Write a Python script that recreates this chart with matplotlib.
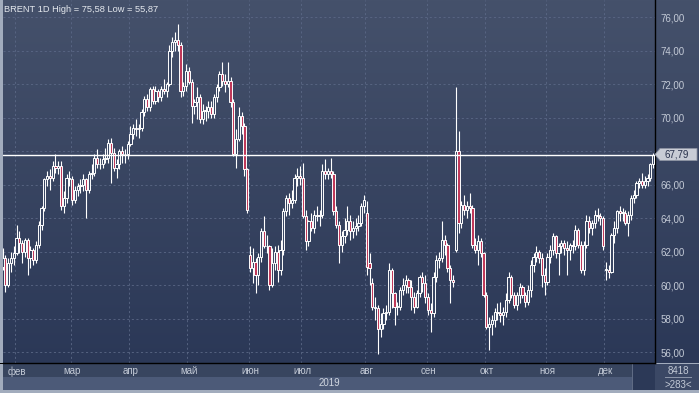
import numpy as np
import matplotlib
matplotlib.use("Agg")
import matplotlib.pyplot as plt
from matplotlib.colors import LinearSegmentedColormap
from matplotlib.patches import Rectangle, Polygon
from matplotlib.transforms import blended_transform_factory

plt.rcParams['font.family'] = ['Liberation Sans', 'DejaVu Sans']

# bars per month, from 25 jan to 26 dec
month_sizes = [5, 20, 21, 21, 22, 19, 23, 22, 21, 22, 21, 18]
month_labels = ["фев", "мар", "апр", "май", "июн", "июл", "авг", "сен", "окт", "ноя", "дек"]

opens = [
    61.1, 61.6, 60.0, 61.3, 61.6,  # jan
    61.9, 62.8, 62.5, 62.0, 62.7, 61.6, 62.1, 61.5, 62.4, 63.6, 64.6, 66.3, 66.5, 66.4, 67.1, 67.0, 67.1, 64.7, 65.2, 66.4,  # feb
    66.3, 65.1, 65.7, 65.9, 66.0, 66.3, 65.7, 66.6, 66.7, 67.6, 67.2, 67.2, 67.5, 67.6, 68.5, 67.9, 67.0, 67.2, 68.0, 67.8, 67.8,  # mar
    68.4, 69.0, 69.4, 69.3, 69.4, 70.3, 71.1, 70.6, 71.7, 71.0, 71.6, 71.2, 71.7, 71.6, 72.0, 74.0, 74.5, 74.6, 74.3, 71.6, 71.9,  # apr
    72.8, 72.1, 70.7, 70.9, 71.2, 69.9, 70.4, 70.4, 70.6, 70.2, 71.2, 71.8, 72.6, 72.2, 72.0, 72.2, 70.9, 67.8, 68.7, 70.1, 69.5, 66.9,  # may
    61.8, 61.0, 61.4, 60.6, 61.7, 63.2, 62.3, 62.3, 60.0, 61.3, 62.0, 60.9, 62.1, 64.4, 65.2, 64.9, 65.1, 66.4, 66.5,  # jun
    66.4, 64.1, 62.6, 63.8, 63.4, 64.2, 64.1, 64.2, 66.8, 66.6, 66.8, 66.6, 64.4, 63.6, 62.4, 62.9, 63.3, 63.8, 63.2, 63.4, 63.5, 63.7, 64.7,  # jul
    64.3, 61.3, 60.1, 58.7, 58.6, 57.4, 57.7, 58.3, 58.4, 60.9, 59.5, 58.7, 58.7, 59.7, 60.0, 60.3, 59.9, 59.3, 58.7, 59.5, 60.5, 60.1,  # aug
    59.3, 58.5, 58.3, 60.5, 61.5, 61.6, 62.7, 62.4, 61.0, 60.3, 62.1, 68.0, 63.7, 64.8, 64.5, 64.7, 64.6, 62.4, 62.1, 62.6, 61.9,  # sep
    59.4, 57.5, 57.7, 57.9, 58.4, 58.3, 58.2, 58.4, 59.1, 60.5, 59.4, 58.8, 59.4, 59.9, 59.4, 59.0, 59.7, 61.2, 61.7, 62.0, 61.6, 60.6,  # oct
    60.2, 61.7, 62.1, 62.9, 61.9, 62.3, 62.5, 62.2, 62.1, 62.4, 62.3, 63.3, 62.4, 60.9, 62.4, 63.8, 63.4, 63.7, 64.2, 64.1, 64.0,  # nov
    60.9, 60.9, 60.8, 63.0, 63.4, 64.4, 64.3, 64.3, 63.7, 64.2, 65.2, 65.4, 66.1, 66.2, 66.0, 66.2, 66.4, 67.2,  # dec
]
highs = [
    62.2, 61.8, 61.6, 62.0, 62.3,
    63.6, 63.2, 62.7, 62.8, 62.8, 62.3, 62.2, 62.6, 63.8, 64.7, 66.4, 66.8, 66.9, 67.4, 67.8, 67.4, 67.4, 65.6, 66.6, 66.8,
    66.5, 65.9, 66.1, 66.3, 66.6, 66.4, 66.8, 67.2, 67.8, 68.1, 67.6, 67.8, 68.2, 68.7, 68.8, 68.2, 67.5, 68.1, 68.3, 68.1, 68.6,
    69.5, 69.6, 69.9, 69.6, 70.5, 71.3, 71.4, 71.8, 71.9, 71.9, 71.7, 71.9, 72.3, 72.1, 74.3, 74.8, 75.1, 75.58, 74.5, 72.1, 73.2,
    73.0, 72.3, 71.1, 71.8, 71.4, 70.8, 70.7, 71.0, 71.0, 71.4, 72.0, 72.8, 73.3, 72.6, 73.3, 72.4, 71.1, 69.3, 70.6, 70.3, 69.7, 67.0,
    62.3, 62.2, 61.6, 61.9, 63.4, 64.1, 63.0, 62.4, 62.2, 62.3, 62.4, 62.7, 64.6, 65.4, 65.5, 65.7, 66.6, 67.0, 67.1,
    67.3, 64.5, 63.9, 64.3, 64.5, 64.7, 64.5, 67.2, 67.5, 67.0, 67.6, 66.8, 64.7, 63.8, 63.2, 64.0, 64.7, 64.2, 63.8, 64.0, 64.2, 64.9, 65.4,
    65.0, 61.9, 60.4, 59.3, 58.8, 58.3, 58.6, 58.8, 61.3, 61.0, 59.6, 59.0, 59.9, 60.4, 60.6, 60.4, 60.3, 59.6, 59.7, 60.6, 60.8, 60.6,
    59.5, 58.9, 60.8, 61.8, 62.0, 63.8, 63.0, 62.5, 61.2, 60.6, 71.8, 69.2, 65.0, 65.4, 65.0, 65.5, 64.8, 62.8, 63.0, 62.8, 62.0,
    59.6, 58.1, 58.2, 58.6, 58.9, 59.0, 58.7, 59.5, 60.8, 60.6, 59.6, 59.6, 60.1, 60.0, 59.6, 60.0, 61.5, 61.9, 62.3, 62.1, 61.9, 61.0,
    61.9, 62.4, 63.1, 63.0, 62.5, 62.7, 62.7, 62.6, 62.5, 62.7, 63.6, 63.4, 62.6, 62.6, 64.2, 64.1, 63.9, 64.5, 64.6, 64.3, 64.1,
    61.4, 61.2, 63.1, 63.8, 64.5, 64.7, 64.6, 64.5, 64.4, 65.4, 65.7, 66.2, 66.4, 66.7, 66.5, 66.6, 67.3, 67.9,
]
lows = [
    60.9, 59.6, 59.9, 60.8, 61.2,
    61.8, 61.9, 61.3, 61.7, 60.6, 61.0, 61.2, 61.3, 62.2, 63.3, 64.4, 65.9, 65.7, 66.2, 66.7, 66.6, 64.5, 64.3, 64.9, 65.9,
    64.8, 64.9, 65.3, 65.5, 65.6, 64.0, 65.5, 66.3, 66.5, 67.0, 66.9, 67.0, 67.3, 67.3, 66.1, 66.8, 66.4, 66.9, 67.3, 67.3, 67.5,
    68.3, 68.7, 68.9, 68.8, 69.2, 70.1, 70.4, 70.4, 70.8, 70.8, 70.9, 71.0, 71.4, 71.2, 71.9, 73.6, 74.0, 74.0, 71.2, 71.3, 71.6,
    72.0, 69.7, 70.2, 69.9, 69.7, 69.6, 69.8, 70.0, 70.0, 70.0, 70.9, 71.6, 71.9, 71.5, 71.8, 70.6, 67.7, 67.0, 68.6, 69.0, 66.5, 64.3,
    60.8, 60.1, 59.5, 60.0, 61.4, 62.2, 61.9, 59.7, 59.9, 60.9, 60.2, 60.6, 61.8, 64.1, 64.2, 64.6, 64.9, 65.9, 66.0,
    64.0, 62.1, 62.3, 63.2, 63.1, 63.8, 63.5, 64.0, 66.3, 66.3, 66.4, 64.2, 63.4, 61.3, 62.0, 62.5, 63.0, 62.7, 62.8, 63.0, 63.2, 63.5, 64.3,
    60.6, 60.0, 58.5, 57.9, 55.87, 56.9, 57.4, 57.9, 58.2, 58.6, 57.6, 58.2, 58.5, 59.4, 59.5, 59.5, 58.5, 58.3, 58.6, 59.3, 59.6, 58.9,
    58.2, 57.2, 58.1, 60.2, 61.0, 61.4, 61.8, 60.8, 58.9, 59.9, 62.0, 63.1, 63.4, 64.2, 64.0, 64.3, 62.2, 61.9, 61.2, 61.7, 59.3,
    57.4, 56.1, 57.0, 57.5, 57.9, 57.8, 57.6, 58.1, 58.9, 59.2, 58.6, 58.5, 58.9, 59.2, 58.7, 58.8, 59.3, 60.8, 61.4, 61.3, 59.9, 59.4,
    60.0, 61.3, 61.8, 61.6, 60.6, 61.9, 61.8, 60.6, 61.5, 61.9, 62.1, 62.2, 60.7, 60.6, 62.2, 63.1, 63.0, 63.4, 63.8, 63.6, 62.1,
    60.3, 60.4, 60.7, 62.5, 63.1, 63.8, 63.8, 63.6, 62.9, 63.9, 64.9, 65.2, 65.8, 65.8, 65.8, 65.9, 66.2, 67.0,
]
closes = [
    61.6, 60.0, 61.3, 61.6, 61.9,
    62.8, 62.5, 62.0, 62.7, 61.6, 62.1, 61.5, 62.4, 63.6, 64.6, 66.3, 66.5, 66.4, 67.1, 67.0, 67.1, 64.7, 65.2, 66.4, 66.3,
    65.1, 65.7, 65.9, 66.0, 66.3, 65.7, 66.6, 66.7, 67.6, 67.2, 67.2, 67.5, 67.6, 68.5, 67.9, 67.0, 67.2, 68.0, 67.8, 67.8, 68.4,
    69.0, 69.4, 69.3, 69.4, 70.3, 71.1, 70.6, 71.7, 71.0, 71.6, 71.2, 71.7, 71.6, 72.0, 74.0, 74.5, 74.6, 74.3, 71.6, 71.9, 72.8,
    72.1, 70.7, 70.9, 71.2, 69.9, 70.4, 70.4, 70.6, 70.2, 71.2, 71.8, 72.6, 72.2, 72.0, 72.2, 70.9, 67.8, 68.7, 70.1, 69.5, 66.9, 64.5,
    61.0, 61.4, 60.6, 61.7, 63.2, 62.3, 62.3, 60.0, 61.3, 62.0, 60.9, 62.1, 64.4, 65.2, 64.9, 65.1, 66.4, 66.5, 66.4,
    64.1, 62.6, 63.8, 63.4, 64.2, 64.1, 64.2, 66.8, 66.6, 66.8, 66.6, 64.4, 63.6, 62.4, 62.9, 63.3, 63.8, 63.2, 63.4, 63.5, 63.7, 64.7, 65.1,
    61.1, 61.0, 58.7, 58.6, 57.4, 57.7, 58.3, 58.4, 60.9, 59.5, 58.7, 58.7, 59.7, 60.0, 60.3, 59.9, 59.3, 58.7, 59.5, 60.5, 60.1, 59.3,
    58.5, 58.3, 60.5, 61.5, 61.6, 62.7, 62.4, 61.0, 60.3, 60.2, 68.0, 63.7, 64.8, 64.5, 64.7, 64.6, 62.4, 62.1, 62.6, 61.9, 59.4,
    57.5, 57.7, 57.9, 58.4, 58.3, 58.2, 58.4, 59.1, 60.5, 59.4, 58.8, 59.4, 59.9, 59.4, 59.0, 59.7, 61.2, 61.7, 62.0, 61.6, 60.6, 60.2,
    61.7, 62.1, 62.9, 61.9, 62.3, 62.5, 62.2, 62.1, 62.4, 62.3, 63.3, 62.4, 60.9, 62.4, 63.8, 63.4, 63.7, 64.2, 64.1, 64.0, 62.3,
    60.9, 60.8, 63.0, 63.4, 64.4, 64.3, 64.3, 63.7, 64.2, 65.2, 65.4, 66.1, 66.2, 66.0, 66.2, 66.4, 67.2, 67.79,
]
last_price = 67.79
price_ticks = [56, 58, 60, 62, 64, 66, 68, 70, 72, 74, 76]

W, H = 699, 393
STEP = 2.78  # pixels per bar
X0 = 2.6     # pixel of bar 0

BG = LinearSegmentedColormap.from_list("bg", ["#45516b", "#2b3857"])
UP = "#3a4764"
DOWN = "#c0395a"
TXT = "#c3cad6"


def fx(x):
    return x / W


def fy(y):
    return 1 - y / H


def band(x0, y0, x1, y1, color, z=0.5):
    fig.patches.append(Rectangle((fx(x0), fy(y1)), (x1 - x0) / W, (y1 - y0) / H,
                                 transform=fig.transFigure, facecolor=color,
                                 edgecolor="none", zorder=z))


o = np.array(opens)
h = np.array(highs)
l = np.array(lows)
c = np.array(closes)
n = len(c)
x = np.arange(n)

fig = plt.figure(figsize=(W / 100, H / 100), dpi=100)
fig.patch.set_facecolor("#a2acbd")

# right price panel
rp = fig.add_axes([fx(655), fy(363), 44 / W, 363 / H], zorder=0)
rp.imshow(np.linspace(0, 1, 256).reshape(-1, 1), cmap=BG, aspect="auto", extent=[0, 1, 0, 1])
rp.axis("off")

ax = fig.add_axes([fx(3), fy(363), 652 / W, 363 / H], zorder=1)
xl = ((3 - X0) / STEP, (655 - X0) / STEP)
yl = (76 - (363 - 17) / 16.75, 76 + 17 / 16.75)
ax.imshow(np.linspace(0, 1, 256).reshape(-1, 1), cmap=BG, aspect="auto",
          extent=[xl[0], xl[1], yl[0], yl[1]], zorder=0)
ax.set_xlim(xl)
ax.set_ylim(yl)

# grid
starts = np.cumsum([0] + month_sizes[:-1])[1:]
for s in starts:
    ax.axvline(s - 0.5, color="#5b6886", lw=0.6, ls=(0, (2.5, 3)), zorder=1)
for p in price_ticks:
    ax.axhline(p, color="#5b6886", lw=0.6, ls=(0, (2.5, 3)), zorder=1)

# candles
up = c >= o
ax.vlines(x, l, h, color="white", lw=0.8, zorder=2)
body_lo = np.minimum(o, c)
body_h = np.maximum(np.abs(c - o), 0.05)
ax.bar(x, body_h, bottom=body_lo, width=0.8, color=np.where(up, UP, DOWN),
       edgecolor="white", linewidth=0.7, zorder=3)

ax.axhline(last_price, color="white", lw=1.0, zorder=4)

# price scale (68 is hidden behind the last price marker)
ax.set_xticks([])
ax.set_yticks(price_ticks)
ax.set_yticklabels(["" if p == 68 else "%d,00" % p for p in price_ticks])
ax.yaxis.tick_right()
ax.tick_params(axis="y", length=0, pad=4, labelsize=7, labelcolor=TXT)
for side in ["top", "left"]:
    ax.spines[side].set_visible(False)
ax.spines["right"].set_color("black")
ax.spines["bottom"].set_color("black")
ax.spines["right"].set_linewidth(1.0)
ax.spines["bottom"].set_linewidth(1.0)

# bottom bands
band(0, 363, 655, 364, "black")
band(3, 364, 632, 377, "#38455f")
band(3, 377, 632, 390, "#4c5a78")
band(632, 364, 633, 390, "#5f6b84")
band(633, 364, 655, 390, "#2c3957")
band(655, 364, 699, 390, "#3b4865")

tr = blended_transform_factory(ax.transData, fig.transFigure)
for s, lab in zip(starts, month_labels):
    ax.text(s, fy(371.5), lab, transform=tr, ha="center", va="center",
            fontsize=7, color=TXT, clip_on=False)
fig.text(fx(340), fy(383.5), "2019", ha="right", va="center", fontsize=7, color="#d0d6e0")

fig.text(fx(678), fy(371), "8418", ha="center", va="center", fontsize=7, color=TXT)
band(665, 377, 692, 378, "#8a94a8", z=2)
fig.text(fx(678), fy(384.5), ">283<", ha="center", va="center", fontsize=7, color=TXT)

# last price marker
yp = 17 + (76 - last_price) * 16.75
fig.patches.append(Polygon([(fx(655), fy(yp)), (fx(660), fy(yp - 6)), (fx(697), fy(yp - 6)),
                            (fx(697), fy(yp + 6)), (fx(660), fy(yp + 6))],
                           closed=True, transform=fig.transFigure, facecolor="#c8ccd5",
                           edgecolor="#8d94a3", lw=0.6, zorder=3))
fig.text(fx(677), fy(yp), "67,79", ha="center", va="center", fontsize=7, color="#27304a", zorder=4)

fig.text(fx(4), fy(9), "BRENT 1D High = 75,58 Low = 55,87", ha="left", va="center",
         fontsize=6.7, color="#e4e8ee")

fig.savefig("out.png", dpi=100)
